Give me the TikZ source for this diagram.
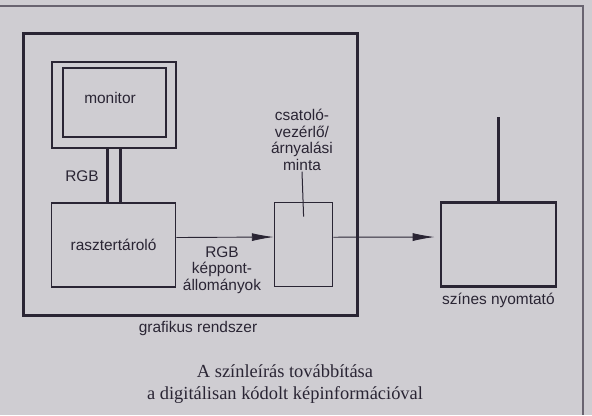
\documentclass[tikz,border=0pt]{standalone}
\usepackage{fontspec}
\setmainfont{Liberation Serif}
\setsansfont{Liberation Sans}
\usetikzlibrary{arrows.meta, positioning}

\definecolor{paper}{RGB}{207,205,210}
\definecolor{ink}{RGB}{42,37,52}
\definecolor{rim}{RGB}{105,100,112}
\newcommand{\diagfont}{\sffamily\fontsize{15.5}{16.5}\selectfont}

\begin{document}
\begin{tikzpicture}[x=1bp, y=-1bp, ink,
  box/.style={draw, line width=#1, inner sep=0pt, font=\diagfont},
  box/.default=1.6bp,
  lbl/.style={font=\diagfont, inner sep=1bp, align=center},
  arr/.style={line width=0.9bp, -{Latex[length=22bp, width=8bp]}}]
  \fill[paper] (0,0) rectangle (592,415);
  \useasboundingbox (0,0) rectangle (592,415);
  % scanned page frame
  \draw[rim, line width=1.5bp] (0,6) -- (583,6) -- (583,415);

  \node[box=3bp, minimum width=334bp, minimum height=282bp] (graf) at (190.5,174.5) {};
  \node[box=2bp, minimum width=124bp, minimum height=86bp] (monout) at (113.6,104.7) {};
  \node[box=2bp, minimum width=103bp, minimum height=69bp] (monin) at (114.5,102.5) {};
  \node[box, minimum width=124bp, minimum height=84bp] (raszter) at (113.6,245) {rasztertároló};
  \node[box, minimum width=58bp, minimum height=84bp] (csat) at (303.6,244.5) {};
  \node[box=2.5bp, minimum width=115bp, minimum height=84bp] (printer) at (498.4,244.3) {};
  \coordinate (ant) at ([yshift=84bp]printer.north);

  \node[lbl] (montxt) at (110,98) {monitor};
  \node[lbl] (rgb) at (82,176) {RGB};
  \node[lbl] (csatlbl) at (302,140) {csatoló-\\vezérlő/\\árnyalási\\minta};
  \node[lbl] (pix) at (222,270) {RGB\\képpont-\\állományok};
  \node[lbl, below=4bp of printer] (printerlbl) {színes nyomtató};
  \node[lbl, below=3bp of graf.south, xshift=7.5bp] (graflbl) {grafikus rendszer};

  \draw[line width=3bp] ([xshift=-6bp]monout.south) -- ([xshift=-6bp]raszter.north);
  \draw[line width=3bp] ([xshift=6.5bp]monout.south) -- ([xshift=6.5bp]raszter.north);
  \draw[line width=1bp] (csatlbl.south) -- ([yshift=-15bp]csat.north);
  \draw[arr] ([yshift=7.5bp]raszter.east) -- ([yshift=7.5bp]csat.west);
  \draw[arr, shorten >=5bp] ([yshift=7.3bp]csat.east) -- ([yshift=7.3bp]printer.west);
  \draw[line width=2.5bp] (printer.north) -- (ant);

  \node[font=\rmfamily\fontsize{18.5}{22}\selectfont, align=center] (caption) at (285,384)
    {A színleírás továbbítása\\a digitálisan kódolt képinformációval};
\end{tikzpicture}
\end{document}
